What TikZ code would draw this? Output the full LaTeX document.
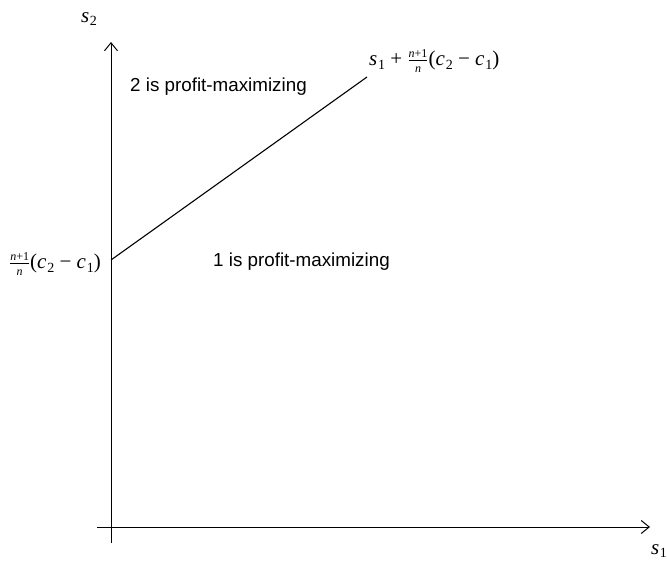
\documentclass[tikz,border=0pt]{standalone}
\usepackage{fontspec}
\setmainfont{Liberation Serif}
\newfontfamily\arial{Liberation Sans}
\usetikzlibrary{arrows.meta}
\newcommand\vv[1]{{\itshape #1}}
\newcommand\sub[1]{\kern0.8pt\raisebox{-0.4ex}{\fontsize{14}{14}\selectfont #1}}
\newcommand\nfrac{\ensuremath{\frac{\hbox{\fontsize{12}{12}\selectfont\itshape n\upshape+1}}{\hbox{\fontsize{12}{12}\selectfont\itshape n}}}}
\begin{document}
\begin{tikzpicture}[x=1pt,y=-1pt,
  axis/.style={line width=1pt,-{Straight Barb[length=8pt,width=13pt,line width=1pt]}},
  mathlbl/.style={inner sep=0pt,font=\fontsize{21}{24}\selectfont},
  txt/.style={inner sep=0pt,font=\arial\fontsize{18.8}{22}\selectfont}]
\useasboundingbox (0,0) rectangle (667,561);
\coordinate (ybot) at (111,543);
\coordinate (ytop) at (111,42);
\coordinate (xl) at (97,527);
\coordinate (xr) at (650,527);
\coordinate (a) at (111,260);
\coordinate (b) at (367,77);
\draw[axis] (ybot) -- (ytop);
\draw[axis] (xl) -- (xr);
\draw[line width=1.1pt] (a) -- (b);
\node[mathlbl] (s2) at (89,19) {\vv{s}\sub{2}};
\node[mathlbl] (s1) at (659,551) {\vv{s}\sub{1}};
\node[mathlbl,anchor=west] (top) at (369,61) {\vv{s}\sub{1} + \nfrac(\vv{c}\sub{2} − \vv{c}\sub{1})};
\node[mathlbl,anchor=east] (left) at (101,264) {\nfrac(\vv{c}\sub{2} − \vv{c}\sub{1})};
\node[txt,anchor=west] (two) at (130,87) {2 is profit-maximizing};
\node[txt,anchor=west] (one) at (213,262) {1 is profit-maximizing};
\end{tikzpicture}
\end{document}
